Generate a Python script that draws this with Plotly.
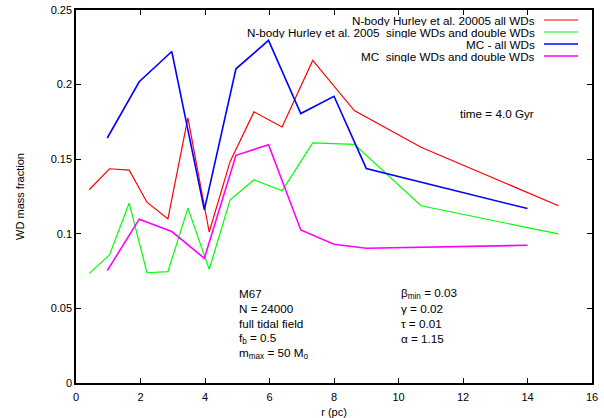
import plotly.graph_objects as go

# ---- data ----
r_nbody = [0.41, 1.04, 1.65, 2.2, 2.85, 3.47, 4.13, 4.78, 5.52, 6.39, 7.34, 8.63, 10.7, 14.96]
frac_nbody_all = [0.1295, 0.1436, 0.1427, 0.1212, 0.110, 0.1777, 0.1012, 0.1485, 0.1817, 0.1716,
                  0.2162, 0.1826, 0.158, 0.1188]
frac_nbody_sd = [0.0735, 0.0858, 0.1206, 0.0739, 0.0746, 0.1172, 0.0762, 0.1228, 0.1362, 0.1288,
                 0.1609, 0.160, 0.1188, 0.0999]

r_mc = [0.97, 1.96, 2.97, 3.98, 4.96, 5.97, 6.97, 8.0, 9.0, 14.0]
frac_mc_all = [0.1642, 0.2019, 0.2222, 0.116, 0.2106, 0.2296, 0.1806, 0.1922, 0.1438, 0.1169]
frac_mc_sd = [0.0753, 0.1098, 0.1015, 0.0836, 0.1526, 0.1597, 0.1026, 0.093, 0.0903, 0.0923]

series_names = ["N-body Hurley et al. 20005 all WDs",
                "N-body Hurley et al. 2005  single WDs and double WDs",
                "MC - all WDs",
                "MC  single WDs and double WDs"]
series_colors = ["#ff0000", "#00ff00", "#0000ff", "#ff00ff"]
series_widths = [1.2, 1.2, 1.6, 1.6]

x_ticks = [0, 2, 4, 6, 8, 10, 12, 14, 16]
y_ticks = [0, 0.05, 0.1, 0.15, 0.2, 0.25]
y_tick_labels = ["0", "0.05", "0.1", "0.15", "0.2", "0.25"]

left_labels = ["M67", "N = 24000", "full tidal field", "f<sub>b</sub> = 0.5",
               "m<sub>max</sub> = 50 M<sub>o</sub>"]
right_labels = ["β<sub>min</sub> = 0.03", "γ = 0.02", "τ = 0.01", "α = 1.15"]
label_rows = [0.06, 0.05, 0.04, 0.03, 0.02]

FONT = "Liberation Sans, Arial, sans-serif"
TXT = 11.7

fig = go.Figure()
xs = [r_nbody, r_nbody, r_mc, r_mc]
ys = [frac_nbody_all, frac_nbody_sd, frac_mc_all, frac_mc_sd]
for x, y, n, c, w in zip(xs, ys, series_names, series_colors, series_widths):
    fig.add_trace(go.Scatter(x=x, y=y, mode="lines", name=n,
                             line=dict(color=c, width=w), showlegend=False))

# gnuplot-style key: right-aligned text with line sample on the right
key_rows_px = [20, 32, 44, 56]
H_plot = 418 - 10 - 35
W_plot = 604 - 76 - 12
for i, (n, c, w) in enumerate(zip(series_names, series_colors, series_widths)):
    ypap = 1 - (key_rows_px[i] - 10) / H_plot
    fig.add_annotation(text=n, xref="paper", yref="paper", height=12, borderpad=0,
                       x=(536 - 76) / W_plot, y=ypap, xanchor="right", yanchor="middle",
                       showarrow=False, font=dict(size=TXT, color="black", family=FONT))
    fig.add_shape(type="line", xref="paper", yref="paper",
                  x0=(544 - 76) / W_plot, x1=(578 - 76) / W_plot, y0=ypap, y1=ypap,
                  line=dict(color=c, width=w))

fig.add_annotation(text="time = 4.0 Gyr", xref="paper", yref="paper",
                   x=(536 - 76) / W_plot, y=1 - (114 - 10) / H_plot,
                   xanchor="right", yanchor="middle", showarrow=False,
                   font=dict(size=TXT, color="black", family=FONT))

for t, yv in zip(left_labels, label_rows):
    fig.add_annotation(text=t, x=5.0, y=yv, xanchor="left", yanchor="middle",
                       showarrow=False, font=dict(size=TXT, color="black", family=FONT))
for t, yv in zip(right_labels, label_rows):
    fig.add_annotation(text=t, x=10.0, y=yv, xanchor="left", yanchor="middle",
                       showarrow=False, font=dict(size=TXT, color="black", family=FONT))

axis_common = dict(showline=True, linecolor="black", linewidth=1.5, mirror="allticks",
                   ticks="inside", ticklen=5, tickwidth=1, tickcolor="black",
                   showgrid=False, zeroline=False, automargin=False,
                   tickfont=dict(size=11, color="black", family=FONT))

fig.update_xaxes(range=[0, 16], tickvals=x_ticks, ticktext=[str(v) for v in x_ticks],
                 ticklabelstandoff=3,
                 title=dict(text="r (pc)", standoff=8, font=dict(size=11, color="black", family=FONT)),
                 **axis_common)
fig.update_yaxes(range=[0, 0.25], tickvals=y_ticks, ticktext=y_tick_labels,
                 title=dict(text="WD mass fraction", standoff=24,
                            font=dict(size=11, color="black", family=FONT)),
                 **axis_common)

fig.update_layout(width=604, height=418, autosize=False,
                  margin=dict(l=76, r=12, t=10, b=35, autoexpand=False),
                  paper_bgcolor="white", plot_bgcolor="white",
                  font=dict(family=FONT, size=11, color="black"))

fig.write_html("out.html")
